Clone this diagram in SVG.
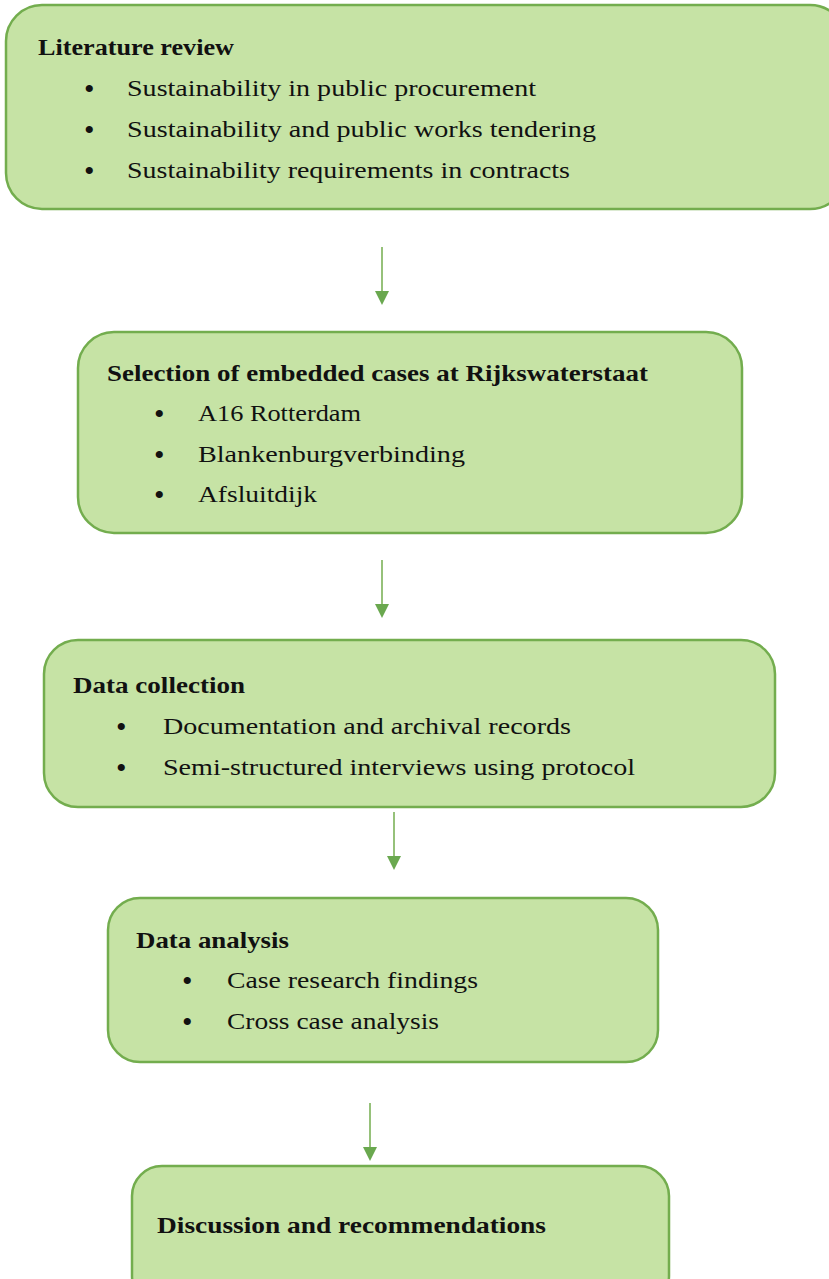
<svg xmlns="http://www.w3.org/2000/svg" width="829" height="1279" viewBox="0 0 829 1279">
<style>
.box{fill:#c6e3a5;stroke:#73ad4e;stroke-width:2.5}
.t{font-family:"Liberation Serif",serif;font-size:23.5px;fill:#111}
.h{font-weight:bold}
.b{font-family:"Liberation Serif",serif;font-size:30px;fill:#111}
.con{stroke:#73ad4e;stroke-width:1.5;fill:none}
.ah{fill:#6aa84f}
</style>
<rect width="829" height="1279" fill="#fff"/>
<g id="connectors">
<line class="con" x1="382" y1="247" x2="382" y2="291"/>
<path class="ah" d="M375,291 L389,291 L382,305 z"/>
<line class="con" x1="382" y1="560" x2="382" y2="604"/>
<path class="ah" d="M375,604 L389,604 L382,618 z"/>
<line class="con" x1="394" y1="812" x2="394" y2="856"/>
<path class="ah" d="M387,856 L401,856 L394,870 z"/>
<line class="con" x1="370" y1="1103" x2="370" y2="1147"/>
<path class="ah" d="M363,1147 L377,1147 L370,1161 z"/>
</g>
<g id="n1">
<rect class="box" x="6" y="5" width="840" height="204" rx="36"/>
<text class="t h" x="38" y="55" textLength="196" lengthAdjust="spacingAndGlyphs">Literature review</text>
<text class="b" x="84" y="99">•</text><text class="t" x="127" y="96" textLength="409" lengthAdjust="spacingAndGlyphs">Sustainability in public procurement</text>
<text class="b" x="84" y="140">•</text><text class="t" x="127" y="137" textLength="469" lengthAdjust="spacingAndGlyphs">Sustainability and public works tendering</text>
<text class="b" x="84" y="181">•</text><text class="t" x="127" y="178" textLength="443" lengthAdjust="spacingAndGlyphs">Sustainability requirements in contracts</text>
</g>
<g id="n2">
<rect class="box" x="78" y="332" width="664" height="201" rx="36"/>
<text class="t h" x="107" y="381" textLength="541" lengthAdjust="spacingAndGlyphs">Selection of embedded cases at Rijkswaterstaat</text>
<text class="b" x="154" y="424">•</text><text class="t" x="198" y="421" textLength="163" lengthAdjust="spacingAndGlyphs">A16 Rotterdam</text>
<text class="b" x="154" y="465">•</text><text class="t" x="198" y="462" textLength="267" lengthAdjust="spacingAndGlyphs">Blankenburgverbinding</text>
<text class="b" x="154" y="505">•</text><text class="t" x="198" y="502" textLength="119" lengthAdjust="spacingAndGlyphs">Afsluitdijk</text>
</g>
<g id="n3">
<rect class="box" x="44" y="640" width="731" height="167" rx="34"/>
<text class="t h" x="73" y="693" textLength="172" lengthAdjust="spacingAndGlyphs">Data collection</text>
<text class="b" x="116" y="737">•</text><text class="t" x="163" y="734" textLength="408" lengthAdjust="spacingAndGlyphs">Documentation and archival records</text>
<text class="b" x="116" y="778">•</text><text class="t" x="163" y="775" textLength="472" lengthAdjust="spacingAndGlyphs">Semi-structured interviews using protocol</text>
</g>
<g id="n4">
<rect class="box" x="108" y="898" width="550" height="164" rx="32"/>
<text class="t h" x="136" y="948" textLength="153" lengthAdjust="spacingAndGlyphs">Data analysis</text>
<text class="b" x="182" y="991">•</text><text class="t" x="227" y="988" textLength="251" lengthAdjust="spacingAndGlyphs">Case research findings</text>
<text class="b" x="182" y="1032">•</text><text class="t" x="227" y="1029" textLength="212" lengthAdjust="spacingAndGlyphs">Cross case analysis</text>
</g>
<g id="n5">
<rect class="box" x="132" y="1166" width="537" height="140" rx="30"/>
<text class="t h" x="157" y="1233" textLength="389" lengthAdjust="spacingAndGlyphs">Discussion and recommendations</text>
</g>
</svg>
